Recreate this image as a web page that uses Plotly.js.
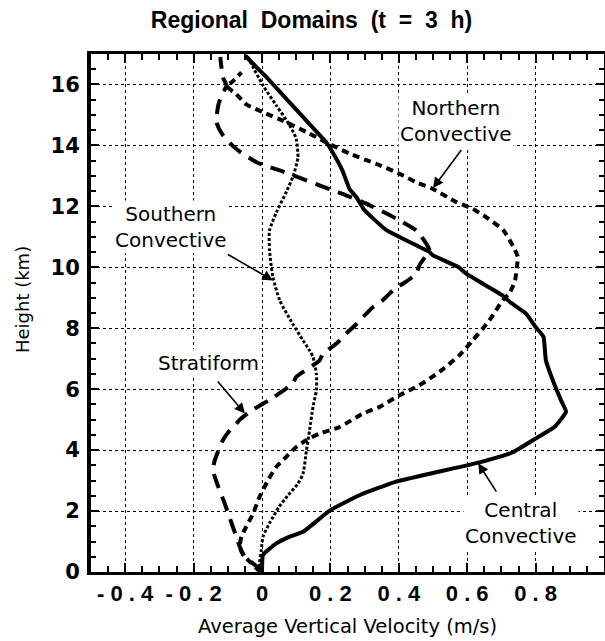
<!DOCTYPE html>
<html>
<head>
<meta charset="utf-8">
<script src="https://cdn.plot.ly/plotly-3.0.1.min.js"></script>
<style>html,body{margin:0;padding:0;background:#fff;}</style>
</head>
<body>
<div id="chart" style="width:605px;height:641px;"></div>
<script>
// Central Convective (solid)
const centralHeight = [0, 0.56, 0.94, 1.16, 1.32, 2.03, 2.52, 2.96, 3.6, 3.93, 4.38, 4.76, 5.26, 5.64, 6.3, 6.95, 7.72, 8.04, 8.48, 8.86, 9.1, 9.79, 10.0, 10.39, 10.5, 11.21, 11.87, 12.3, 12.57, 13.18, 13.84, 14.1, 14.7, 15.53, 16.24, 16.84, 16.95];
const centralVel    = [0, 0.003, 0.042, 0.081, 0.12, 0.2, 0.285, 0.39, 0.636, 0.733, 0.80, 0.855, 0.889, 0.874, 0.85, 0.83, 0.823, 0.80, 0.772, 0.725, 0.70, 0.597, 0.575, 0.5, 0.49, 0.365, 0.30, 0.276, 0.256, 0.235, 0.203, 0.188, 0.139, 0.071, 0.013, -0.04, -0.048];

// Northern Convective (short dashes)
const northHeight = [0, 0.12, 0.34, 0.56, 0.83, 1.16, 1.49, 1.92, 2.47, 3.02, 3.45, 3.78, 4.1, 4.33, 4.54, 4.76, 5.2, 5.42, 5.8, 6.13, 6.57, 7.11, 7.6, 8.26, 8.92, 9.14, 9.57, 10.0, 10.34, 10.67, 11.21, 11.65, 11.92, 12.14, 12.57, 12.79, 13.07, 13.39, 13.73, 14.1, 14.44, 14.76, 15.09, 15.35, 15.68, 15.96, 16.07, 16.28, 16.4];
const northVel    = [-0.005, -0.016, -0.036, -0.055, -0.065, -0.06, -0.046, -0.026, -0.007, 0.018, 0.042, 0.071, 0.10, 0.13, 0.168, 0.227, 0.295, 0.344, 0.402, 0.46, 0.519, 0.577, 0.616, 0.665, 0.704, 0.723, 0.74, 0.745, 0.748, 0.735, 0.706, 0.655, 0.616, 0.568, 0.50, 0.451, 0.402, 0.335, 0.256, 0.188, 0.13, 0.071, 0.003, -0.046, -0.075, -0.104, -0.089, -0.07, -0.06];

// Southern Convective (fine dots)
const southHeight = [0, 0.28, 0.72, 1.16, 1.6, 2.14, 2.5, 2.9, 3.23, 4.0, 4.65, 5.41, 5.97, 6.5, 7.06, 7.27, 7.6, 8.14, 8.91, 9.68, 10.55, 11.21, 11.8, 12.47, 12.96, 13.6, 14.21, 14.66, 15.31, 15.97, 16.67, 16.9];
const southVel    = [-0.005, -0.007, -0.002, 0.003, 0.022, 0.05, 0.075, 0.105, 0.12, 0.13, 0.139, 0.149, 0.159, 0.159, 0.149, 0.139, 0.12, 0.09, 0.052, 0.032, 0.022, 0.022, 0.042, 0.071, 0.09, 0.105, 0.10, 0.081, 0.042, 0.003, -0.031, -0.04];

// Stratiform (long dashes)
const stratHeight = [0, 0.12, 0.28, 0.5, 0.83, 1.16, 1.6, 2.25, 2.8, 3.34, 3.67, 4.33, 4.65, 4.87, 5.0, 5.3, 5.72, 6.19, 6.4, 6.94, 7.16, 7.49, 7.82, 8.14, 8.48, 8.69, 8.92, 9.34, 9.46, 9.79, 10.06, 10.39, 10.55, 10.78, 11.21, 11.6, 12.09, 12.36, 12.52, 12.69, 12.96, 13.18, 13.45, 13.88, 14.33, 14.76, 15.31, 15.63, 15.96, 16.23, 16.6, 16.9];
const stratVel    = [-0.002, -0.01, -0.026, -0.05, -0.065, -0.075, -0.089, -0.109, -0.128, -0.143, -0.138, -0.114, -0.094, -0.075, -0.065, -0.03, 0.032, 0.09, 0.10, 0.168, 0.178, 0.217, 0.246, 0.276, 0.305, 0.324, 0.353, 0.392, 0.412, 0.451, 0.46, 0.48, 0.49, 0.48, 0.451, 0.392, 0.305, 0.246, 0.207, 0.168, 0.105, 0.052, -0.016, -0.075, -0.114, -0.133, -0.128, -0.119, -0.104, -0.114, -0.119, -0.122];

const xTickVals = [-0.4, -0.2, 0, 0.2, 0.4, 0.6, 0.8, 1];
const xTickText = ['- 0 . 4', '- 0 . 2', '0', '0 . 2', '0 . 4', '0 . 6', '0 . 8', '1'];
const yTickVals = [0, 2, 4, 6, 8, 10, 12, 14, 16];
const yTickText = ['0', '2', '4', '6', '8', '10', '12', '14', '16'];

const traces = [
  {x: southVel, y: southHeight, mode: 'lines', line: {color: '#000', width: 3, dash: '3px,2px', shape: 'spline', smoothing: 0.6}, name: 'Southern Convective'},
  {x: stratVel, y: stratHeight, mode: 'lines', line: {color: '#000', width: 4, dash: '15px,9px', shape: 'spline', smoothing: 0.6}, name: 'Stratiform'},
  {x: northVel, y: northHeight, mode: 'lines', line: {color: '#000', width: 4, dash: '7px,5px', shape: 'spline', smoothing: 0.6}, name: 'Northern Convective'},
  {x: centralVel, y: centralHeight, mode: 'lines', line: {color: '#000', width: 4, shape: 'spline', smoothing: 0.4}, name: 'Central Convective'}
];

const labelFont = {family: 'DejaVu Sans', size: 20, color: '#000'};
function label(x, y, text) {
  return {x: x, y: y, xref: 'x', yref: 'y', text: text, showarrow: false, font: labelFont,
          bgcolor: '#fff', borderpad: 1, align: 'center'};
}
function arrow(tx, ty, hx, hy) {
  return {x: hx, y: hy, ax: tx, ay: ty, xref: 'x', yref: 'y', axref: 'x', ayref: 'y', text: '',
          showarrow: true, arrowhead: 2, arrowsize: 1.3, arrowwidth: 1.6, arrowcolor: '#000'};
}

const layout = {
  width: 605, height: 641,
  margin: {l: 91, r: 1, t: 54, b: 69, pad: 0},
  paper_bgcolor: '#fff', plot_bgcolor: '#fff',
  showlegend: false,
  title: {text: 'Regional\u00a0\u00a0Domains\u00a0\u00a0(t\u00a0\u00a0=\u00a0\u00a03\u00a0\u00a0h)', x: 0.515, xref: 'container', xanchor: 'center',
          y: 1 - 20/641, yref: 'container', yanchor: 'middle',
          font: {family: 'Liberation Sans', size: 23, weight: 'bold', color: '#000'}},
  xaxis: {
    range: [-0.5, 1.0], tickmode: 'array', tickvals: xTickVals, ticktext: xTickText,
    showline: true, linewidth: 3, linecolor: '#000', mirror: 'ticks',
    ticks: 'inside', ticklen: 9, tickwidth: 2, tickcolor: '#000', ticklabelstandoff: 0,
    showgrid: true, gridcolor: '#000', gridwidth: 1, griddash: 'dot', zeroline: false,
    tickfont: {family: 'Liberation Sans', size: 22, weight: 'bold', color: '#000'},
    minor: {dtick: 0.05, tick0: 0, ticks: 'inside', ticklen: 6, tickwidth: 2, tickcolor: '#000', showgrid: false}
  },
  yaxis: {
    range: [0, 17], tickmode: 'array', tickvals: yTickVals, ticktext: yTickText,
    showline: true, linewidth: 4, linecolor: '#000', mirror: 'ticks',
    ticks: 'inside', ticklen: 8, tickwidth: 2, tickcolor: '#000', ticklabelstandoff: 3,
    showgrid: true, gridcolor: '#000', gridwidth: 1, griddash: 'dot', zeroline: false,
    tickfont: {family: 'DejaVu Sans', size: 21, weight: 'bold', color: '#000'},
    minor: {dtick: 0.5, tick0: 0, ticks: 'inside', ticklen: 5, tickwidth: 2, tickcolor: '#000', showgrid: false}
  },
  annotations: [
    label(0.568, 14.8, 'Northern<br>Convective'),
    label(-0.267, 11.31, 'Southern<br>Convective'),
    label(-0.156, 6.85, 'Stratiform'),
    label(0.757, 1.62, 'Central<br>Convective'),
    arrow(0.586, 13.9, 0.50, 12.6),
    arrow(-0.104, 10.45, 0.032, 9.57),
    arrow(-0.133, 6.3, -0.05, 5.2),
    arrow(0.688, 2.59, 0.632, 3.57),
    {x: -0.1345, y: 0.525, xref: 'paper', yref: 'paper', text: 'Height (km)', textangle: -90, showarrow: false,
     font: {family: 'DejaVu Sans', size: 18, color: '#000'}, xanchor: 'center', yanchor: 'middle'},
    {x: 0.5, y: (572 - 626) / 518, xref: 'paper', yref: 'paper', text: 'Average Vertical Velocity (m/s)', showarrow: false,
     font: {family: 'DejaVu Sans', size: 19.5, color: '#000'}, xanchor: 'center', yanchor: 'middle'}
  ]
};

Plotly.newPlot('chart', traces, layout, {displayModeBar: false, staticPlot: true});
</script>
</body>
</html>
